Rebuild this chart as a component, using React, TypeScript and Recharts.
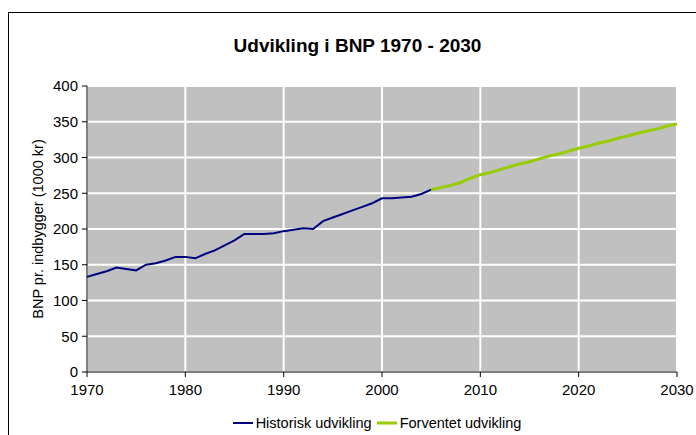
import React from "react";
import {
  LineChart,
  Line,
  XAxis,
  YAxis,
  CartesianGrid,
  Legend,
} from "recharts";

const FONT = "'Liberation Sans', Arial, sans-serif";

const HIST_YEARS = [
  1970, 1971, 1972, 1973, 1974, 1975, 1976, 1977, 1978, 1979, 1980, 1981, 1982, 1983, 1984, 1985, 1986, 1987,
  1988, 1989, 1990, 1991, 1992, 1993, 1994, 1995, 1996, 1997, 1998, 1999, 2000, 2001, 2002, 2003, 2004, 2005,
];
const HIST_VALUES = [
  133, 137, 141, 146, 144, 142, 150, 152, 156, 161, 161, 159, 165, 170, 177, 184, 193, 193,
  193, 194, 197, 199, 201, 200, 211, 216, 221, 226, 231, 236, 243, 243, 244, 245, 249, 255,
];

const FORECAST_YEARS = [
  2005, 2006, 2007, 2008, 2009, 2010, 2011, 2012, 2013, 2014, 2015, 2016, 2017, 2018, 2019, 2020, 2021, 2022,
  2023, 2024, 2025, 2026, 2027, 2028, 2029, 2030,
];
const FORECAST_VALUES = [
  255, 258, 261, 265, 271, 276, 279, 283, 287, 291, 294, 298, 302, 305, 309, 313, 316, 320,
  323, 327, 330, 334, 337, 340, 344, 347,
];

const X_TICKS = [1970, 1980, 1990, 2000, 2010, 2020, 2030];
const Y_TICKS = [0, 50, 100, 150, 200, 250, 300, 350, 400];

const SERIES_ORDER = ["hist", "forecast"];

const COLORS = {
  hist: "#000080",
  forecast: "#99CC00",
  plot: "#C0C0C0",
};

// merge both series into one table keyed by year
const data = (() => {
  const rows: Record<number, { year: number; hist?: number; forecast?: number }> = {};
  HIST_YEARS.forEach((y, i) => {
    rows[y] = { ...(rows[y] || { year: y }), hist: HIST_VALUES[i] };
  });
  FORECAST_YEARS.forEach((y, i) => {
    rows[y] = { ...(rows[y] || { year: y }), forecast: FORECAST_VALUES[i] };
  });
  return Object.values(rows).sort((a, b) => a.year - b.year);
})();

const LegendContent = ({ payload }: any) => {
  const items = [...(payload || [])].sort(
    (a: any, b: any) => SERIES_ORDER.indexOf(a.dataKey) - SERIES_ORDER.indexOf(b.dataKey)
  );
  return (
    <div
      style={{
        display: "flex",
        justifyContent: "center",
        alignItems: "center",
        paddingLeft: 54,
        fontFamily: FONT,
        fontSize: 14.5,
        color: "#000",
        height: 22,
      }}
    >
      {items.map((p: any) => (
        <div key={p.value} style={{ display: "flex", alignItems: "center", marginRight: 5 }}>
          <svg width={20} height={10} style={{ marginRight: 3 }}>
            <line x1={0} y1={5} x2={20} y2={5} stroke={p.color} strokeWidth={p.dataKey === "hist" ? 2 : 3} />
          </svg>
          <span>{p.value}</span>
        </div>
      ))}
    </div>
  );
};

const YLabel = ({ viewBox }: any) => {
  const x = viewBox.x + 29;
  const y = viewBox.y + viewBox.height / 2;
  return (
    <text
      x={x}
      y={y}
      transform={`rotate(-90 ${x} ${y})`}
      textAnchor="middle"
      dominantBaseline="central"
      fontFamily={FONT}
      fontSize={14.5}
      fill="#000"
    >
      BNP pr. indbygger (1000 kr)
    </text>
  );
};

export default function App() {
  return (
    <>
      <style>{`html,body{margin:0;padding:0;overflow:hidden;background:#fff}`}</style>
      <div
        style={{
          position: "absolute",
          left: 8,
          top: 12,
          width: 687,
          height: 422,
          borderLeft: "1px solid #000",
          borderTop: "1px solid #000",
          background: "#fff",
          overflow: "hidden",
        }}
      >
        <div
          style={{
            position: "absolute",
            left: 10,
            width: 677,
            top: 22,
            textAlign: "center",
            fontFamily: FONT,
            fontWeight: "bold",
            fontSize: 19,
            color: "#000",
          }}
        >
          Udvikling i BNP 1970 - 2030
        </div>
        <LineChart
          width={687}
          height={422}
          data={data}
          margin={{ top: 73, right: 19, left: 0, bottom: 1 }}
        >
          <CartesianGrid fill={COLORS.plot} stroke="#fff" strokeWidth={2} />
          <XAxis
            dataKey="year"
            type="number"
            domain={[1970, 2030]}
            ticks={X_TICKS}
            height={40}
            tickSize={5}
            tickMargin={7}
            stroke="#000"
            tick={{ fill: "#000", fontFamily: FONT, fontSize: 15 }}
            interval={0}
          />
          <YAxis
            domain={[0, 400]}
            ticks={Y_TICKS}
            width={78}
            tickSize={5}
            tickMargin={4}
            stroke="#000"
            tick={{ fill: "#000", fontFamily: FONT, fontSize: 15 }}
            interval={0}
            label={<YLabel />}
          />
          <Legend verticalAlign="bottom" height={22} content={<LegendContent />} wrapperStyle={{ left: 0, width: 687 }} />
          <Line
            type="linear"
            dataKey="hist"
            name="Historisk udvikling"
            stroke={COLORS.hist}
            strokeWidth={2}
            dot={false}
            isAnimationActive={false}
          />
          <Line
            type="linear"
            dataKey="forecast"
            name="Forventet udvikling"
            stroke={COLORS.forecast}
            strokeWidth={3}
            dot={false}
            isAnimationActive={false}
          />
        </LineChart>
      </div>
    </>
  );
}
